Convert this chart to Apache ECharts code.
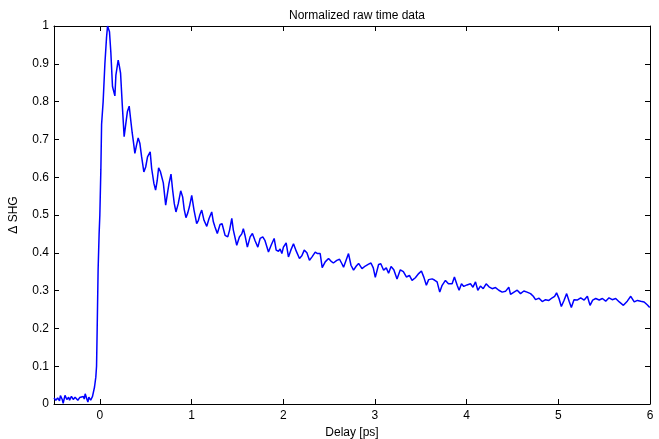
<!DOCTYPE html>
<html>
<head>
<meta charset="utf-8">
<title>Normalized raw time data</title>
<script src="https://cdn.jsdelivr.net/npm/echarts@6/dist/echarts.min.js"></script>
<style>
html, body { margin: 0; padding: 0; background: #fff; }
#chartLine { width: 659px; height: 439px; }
</style>
</head>
<body>
<div id="chartLine"></div>
<script>
// delay [ps] and normalized SHG change
var delay = [
    -0.50, -0.48, -0.46, -0.44, -0.43, -0.41, -0.40, -0.39, -0.38, -0.36,
    -0.34, -0.33, -0.31, -0.29, -0.27, -0.26, -0.24, -0.22, -0.20, -0.18,
    -0.17, -0.16, -0.14, -0.13, -0.12, -0.10, -0.08, -0.07, -0.058, -0.044,
    -0.036, -0.029, -0.019, -0.008, 0.0, 0.011, 0.019, 0.036, 0.055, 0.073,
    0.084, 0.095, 0.105, 0.12, 0.138, 0.150, 0.164, 0.175, 0.200, 0.212,
    0.226, 0.245, 0.265, 0.284, 0.300, 0.320, 0.335, 0.353, 0.368, 0.382,
    0.400, 0.418, 0.437, 0.455, 0.480, 0.500, 0.520, 0.549, 0.565, 0.590,
    0.608, 0.625, 0.641, 0.660, 0.677, 0.692, 0.718, 0.729, 0.754, 0.776,
    0.794, 0.812, 0.830, 0.855, 0.882, 0.903, 0.920, 0.939, 0.958, 0.976,
    1.002, 1.027, 1.056, 1.075, 1.090, 1.111, 1.136, 1.166, 1.190, 1.220,
    1.238, 1.256, 1.281, 1.311, 1.333, 1.366, 1.395, 1.415, 1.439, 1.456,
    1.493, 1.522, 1.548, 1.565, 1.584, 1.609, 1.639, 1.664, 1.693, 1.723,
    1.748, 1.777, 1.800, 1.839, 1.868, 1.901, 1.923, 1.948, 1.966, 1.985,
    2.002, 2.032, 2.057, 2.083, 2.112, 2.141, 2.177, 2.203, 2.229, 2.258,
    2.286, 2.316, 2.349, 2.374, 2.403, 2.425, 2.458, 2.494, 2.520, 2.547,
    2.584, 2.614, 2.640, 2.658, 2.676, 2.712, 2.739, 2.767, 2.797, 2.822,
    2.859, 2.895, 2.931, 2.957, 2.982, 3.004, 3.040, 3.064, 3.095, 3.124,
    3.149, 3.176, 3.206, 3.241, 3.277, 3.310, 3.343, 3.376, 3.405, 3.441,
    3.477, 3.507, 3.534, 3.561, 3.586, 3.624, 3.649, 3.678, 3.707, 3.733,
    3.769, 3.802, 3.842, 3.867, 3.897, 3.918, 3.944, 3.969, 4.004, 4.042,
    4.069, 4.097, 4.122, 4.151, 4.181, 4.213, 4.244, 4.279, 4.315, 4.351,
    4.388, 4.424, 4.460, 4.479, 4.517, 4.552, 4.588, 4.624, 4.659, 4.697,
    4.727, 4.752, 4.790, 4.825, 4.861, 4.897, 4.934, 4.960, 4.981, 5.009,
    5.033, 5.062, 5.091, 5.118, 5.142, 5.171, 5.206, 5.244, 5.282, 5.317,
    5.346, 5.375, 5.408, 5.446, 5.481, 5.517, 5.553, 5.588, 5.626, 5.665,
    5.710, 5.752, 5.790, 5.828, 5.863, 5.899, 5.936, 5.972, 5.997
];
var shg = [
    0.016, 0.010, 0.016, 0.008, 0.022, 0.012, 0.002, 0.003, 0.023, 0.012,
    0.018, 0.010, 0.020, 0.012, 0.018, 0.022, 0.010, 0.017, 0.012, 0.020,
    0.013, 0.027, 0.012, 0.005, 0.018, 0.010, 0.020, 0.018, 0.045, 0.071,
    0.100, 0.200, 0.354, 0.450, 0.500, 0.620, 0.740, 0.800, 0.900, 0.970,
    1.000, 0.995, 0.985, 0.930, 0.840, 0.845, 0.815, 0.870, 0.910, 0.895,
    0.875, 0.790, 0.707, 0.743, 0.773, 0.788, 0.755, 0.717, 0.690, 0.663,
    0.685, 0.704, 0.689, 0.655, 0.614, 0.627, 0.654, 0.667, 0.623, 0.583,
    0.566, 0.590, 0.625, 0.615, 0.610, 0.585, 0.526, 0.544, 0.583, 0.608,
    0.566, 0.530, 0.508, 0.530, 0.564, 0.548, 0.515, 0.493, 0.505, 0.521,
    0.552, 0.513, 0.477, 0.486, 0.500, 0.513, 0.486, 0.470, 0.490, 0.508,
    0.482, 0.468, 0.451, 0.475, 0.477, 0.446, 0.442, 0.460, 0.491, 0.460,
    0.420, 0.442, 0.450, 0.464, 0.445, 0.415, 0.442, 0.451, 0.432, 0.415,
    0.438, 0.442, 0.433, 0.402, 0.420, 0.438, 0.407, 0.404, 0.410, 0.398,
    0.415, 0.426, 0.389, 0.407, 0.424, 0.405, 0.385, 0.392, 0.407, 0.400,
    0.380, 0.390, 0.402, 0.398, 0.398, 0.361, 0.376, 0.385, 0.378, 0.373,
    0.380, 0.383, 0.371, 0.362, 0.367, 0.398, 0.367, 0.354, 0.365, 0.372,
    0.358, 0.365, 0.370, 0.373, 0.360, 0.335, 0.369, 0.371, 0.354, 0.360,
    0.346, 0.364, 0.355, 0.331, 0.355, 0.350, 0.336, 0.340, 0.327, 0.334,
    0.345, 0.352, 0.335, 0.314, 0.329, 0.331, 0.328, 0.323, 0.296, 0.314,
    0.327, 0.318, 0.318, 0.336, 0.314, 0.301, 0.318, 0.311, 0.315, 0.318,
    0.309, 0.323, 0.301, 0.312, 0.305, 0.318, 0.310, 0.305, 0.308, 0.301,
    0.296, 0.298, 0.309, 0.290, 0.296, 0.301, 0.292, 0.299, 0.296, 0.292,
    0.285, 0.276, 0.280, 0.271, 0.276, 0.274, 0.281, 0.285, 0.294, 0.278,
    0.258, 0.274, 0.292, 0.272, 0.255, 0.276, 0.275, 0.281, 0.275, 0.285,
    0.261, 0.275, 0.279, 0.275, 0.279, 0.272, 0.281, 0.276, 0.279, 0.270,
    0.261, 0.272, 0.285, 0.270, 0.274, 0.272, 0.270, 0.262, 0.255
];

var chartData = delay.map(function (d, i) { return [d, shg[i]]; });

var myChart = echarts.init(document.getElementById('chartLine'));
var textFont = 'Liberation Sans, Arial, sans-serif';
var tickStyle = { show: true, inside: true, length: 5, lineStyle: { color: '#000', width: 1 } };
var lineBox = { show: true, onZero: false, lineStyle: { color: '#000', width: 1 } };

var option = {
    animation: false,
    backgroundColor: '#fff',
    title: {
        text: 'Normalized raw time data',
        left: 352,
        top: 5,
        textAlign: 'center',
        textStyle: { fontFamily: textFont, fontSize: 12, fontWeight: 'normal', color: '#000' }
    },
    grid: { left: 54, right: 9, top: 26, bottom: 35, containLabel: false, outerBoundsMode: 'none' },
    xAxis: [{
        type: 'value',
        min: -0.5,
        max: 6,
        splitNumber: 7,
        name: 'Delay [ps]',
        nameLocation: 'middle',
        nameGap: 20,
        nameTextStyle: { fontFamily: textFont, fontSize: 12, color: '#000' },
        axisLine: lineBox,
        axisTick: tickStyle,
        axisLabel: { showMinLabel: false, margin: 6, fontFamily: textFont, fontSize: 12, color: '#000' },
        splitLine: { show: false }
    }, {
        type: 'value',
        position: 'top',
        min: -0.5,
        max: 6,
        splitNumber: 7,
        axisLine: lineBox,
        axisTick: tickStyle,
        axisLabel: { show: false },
        splitLine: { show: false }
    }],
    yAxis: [{
        type: 'value',
        min: 0,
        max: 1,
        interval: 0.1,
        name: 'Δ SHG',
        nameLocation: 'middle',
        nameGap: 34,
        nameTextStyle: { fontFamily: textFont, fontSize: 12, color: '#000' },
        axisLine: lineBox,
        axisTick: tickStyle,
        axisLabel: { margin: 5, fontFamily: textFont, fontSize: 12, color: '#000' },
        splitLine: { show: false }
    }, {
        type: 'value',
        position: 'right',
        min: 0,
        max: 1,
        interval: 0.1,
        axisLine: lineBox,
        axisTick: tickStyle,
        axisLabel: { show: false },
        splitLine: { show: false }
    }],
    series: [{
        type: 'line',
        data: chartData,
        showSymbol: false,
        symbol: 'none',
        lineStyle: { color: '#0000ff', width: 1.5 },
        itemStyle: { color: '#0000ff' }
    }]
};
myChart.setOption(option);
</script>
</body>
</html>
